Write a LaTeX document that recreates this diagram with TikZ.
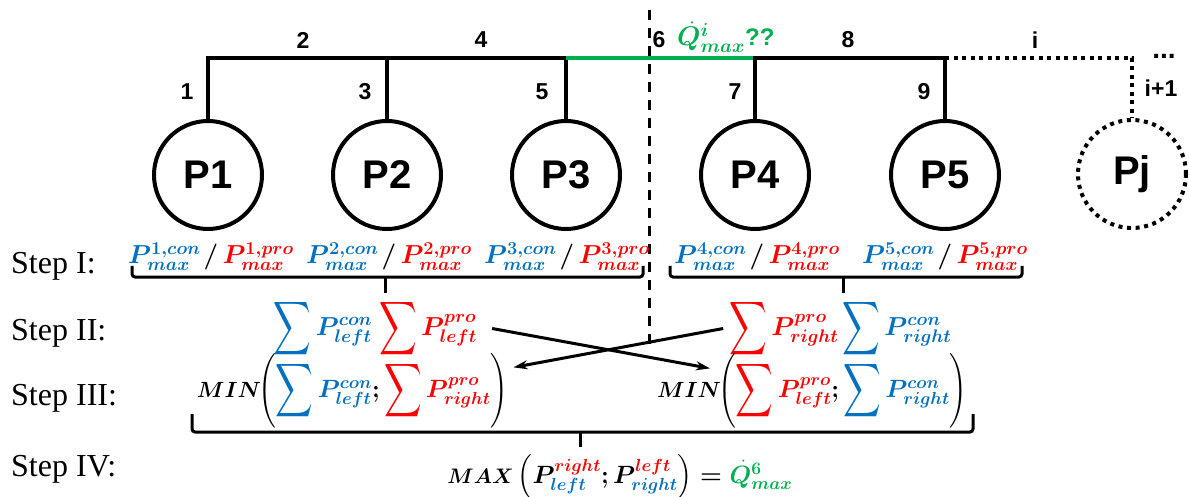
\RequirePackage{fix-cm}
\documentclass[tikz,border=0pt]{standalone}
\usepackage{amsmath}
\usepackage{bm}
\usepackage{graphicx}
\usepackage{fontspec}
\newfontfamily\labelfont{Liberation Sans}
\newfontfamily\stepfont{Liberation Serif}
\usetikzlibrary{arrows.meta,calc}
\definecolor{conblue}{HTML}{0070C0}
\definecolor{prored}{HTML}{FF0000}
\definecolor{flowgreen}{HTML}{00B050}

% tall, narrow summation sign centred on the math axis
\newcommand{\tallsum}{\mathop{\vcenter{\hbox{\scalebox{1.05}[1.5]{$\displaystyle\sum$}}}}}
% parentheses for the MIN terms
\newcommand{\tallparen}[1]{\mathopen{\vcenter{\hbox{\scalebox{0.9}[1.0]{$\Biggl#1$}}}}}
\newcommand{\tallcparen}[1]{\mathclose{\vcenter{\hbox{\scalebox{0.9}[1.0]{$\Biggr#1$}}}}}
% bold P with indices
\newcommand{\bP}[2]{\bm{P}^{\bm{#1}}_{\bm{#2}}}
% bold P with coloured indices
\newcommand{\cP}[2]{\bm{P}^{{\color{prored}\bm{#1}}}_{{\color{conblue}\bm{#2}}}}
% bold Q with a centred dot (flow rate); scripts attach to the Q
\newcommand{\Qdot}{\rlap{$\mkern3mu\dot{\phantom{Q}}$}\bm{Q}}
% summed term in a colour
\newcommand{\csum}[3]{{\color{#1}\tallsum\bP{#2}{#3}}}
% pump limits of step I
\newcommand{\plim}[1]{\textcolor{conblue}{$\bP{#1,con}{max}$}$\mkern2mu\bm{/}\mkern3mu$\textcolor{prored}{$\bP{#1,pro}{max}$}}

\tikzset{
  tree/.style={line width=4pt},
  dots/.style={line width=4pt,dash pattern=on 4pt off 4.5pt},
  pump/.style={circle,draw,line width=4pt,minimum size=108pt,inner sep=0pt,
    font={\labelfont\bfseries\fontsize{40}{40}\selectfont}},
  seg/.style={inner sep=0pt,font={\labelfont\bfseries\fontsize{23}{23}\selectfont}},
  steplabel/.style={anchor=base west,inner sep=0pt,font={\stepfont\fontsize{32}{36}\selectfont}},
  mathlbl/.style={anchor=base,inner sep=0pt,font={\fontsize{26}{32}\selectfont}},
  minlbl/.style={inner sep=0pt,font={\fontsize{22}{26}\selectfont}},
  parlbl/.style={anchor=west,inner sep=0pt,font={\fontsize{25}{30}\selectfont}},
  brace/.style={line width=3pt,rounded corners=3pt},
  flow/.style={line width=3pt,-{Stealth[length=14pt,width=9pt]}},
}

\begin{document}
\begin{tikzpicture}[x=1pt,y=-1pt]
\useasboundingbox (0,0) rectangle (1189,497);

% pumps
\node[pump] (P1) at (208,175) {P1};
\node[pump] (P2) at (387,175) {P2};
\node[pump] (P3) at (566,175) {P3};
\node[pump] (P4) at (755,175) {P4};
\node[pump] (P5) at (945,175) {P5};
\node[pump,dash pattern=on 4pt off 4.6pt] (Pj) at (1132,174) {Pj};

% junctions of the main line
\coordinate (j1) at (208,58);
\coordinate (j2) at (387,58);
\coordinate (j3) at (566,58);
\coordinate (j4) at (755,58);
\coordinate (j5) at (945,58);
\coordinate (jj) at (1132,58);

% pipe network
\draw[tree] (P1) -- (j1) -- (j3);
\draw[tree] (P2) -- (j2);
\draw[tree] (P3) -- (j3);
\draw[tree,flowgreen] (j3) -- (j4);
\draw[tree] (P4) -- (j4) -- (j5) -- (P5);
\draw[dots] (j5) -- (jj) -- (Pj);

% section cut
\coordinate (cutT) at (649,10);
\coordinate (cutB) at (649,350);
\draw[line width=3pt,dash pattern=on 10pt off 8pt] (cutT) -- (cutB);

% segment numbers
\node[seg] (s1) at (187,92) {1};
\node[seg] (s2) at (303,40) {2};
\node[seg] (s3) at (365,92) {3};
\node[seg] (s4) at (481,40) {4};
\node[seg] (s5) at (542,92) {5};
\node[seg] (s6) at (659,40) {6};
\node[seg] (s7) at (735,92) {7};
\node[seg] (s8) at (848,40) {8};
\node[seg] (s9) at (924,92) {9};
\node[seg] (si) at (1035,40) {i};
\node[seg,font={\labelfont\bfseries\fontsize{28}{28}\selectfont}] (sdots) at (1164,56) {...};
\node[seg] (si1) at (1161,88) {i+1};
\node[anchor=base west,inner sep=0pt,text=flowgreen,font={\fontsize{27}{30}\selectfont}] (qi)
  at (677,46) {$\Qdot^{\bm{i}}_{\bm{max}}${\labelfont\bfseries\fontsize{24}{26}\selectfont ??}};

% step captions
\node[steplabel] (st1) at (11,273) {Step I:};
\node[steplabel] (st2) at (11,340) {Step II:};
\node[steplabel] (st3) at (11,405) {Step III:};
\node[steplabel] (st4) at (11,476) {Step IV:};

% step I: limits of each pump
\node[mathlbl] (L1) at (211,264) {\plim{1}};
\node[mathlbl] (L2) at (389,264) {\plim{2}};
\node[mathlbl] (L3) at (567,264) {\plim{3}};
\node[mathlbl] (L4) at (757,264) {\plim{4}};
\node[mathlbl] (L5) at (945,264) {\plim{5}};

\draw[brace] (132,266) |- (643,277) -- (643,266);
\draw[line width=3pt] (385,277) -- (385,293);
\draw[brace] (670,266) |- (1022,277) -- (1022,266);
\draw[line width=3pt] (843,277) -- (843,293);

% step II: sums on each side
\node[mathlbl] (IIlc) at (323,335) {$\csum{conblue}{con}{left}$};
\node[mathlbl] (IIlp) at (428,335) {$\csum{prored}{pro}{left}$};
\node[mathlbl] (IIrp) at (784,335) {$\csum{prored}{pro}{right}$};
\node[mathlbl] (IIrc) at (897,335) {$\csum{conblue}{con}{right}$};

% step III: minima
\node[minlbl] (IIIlmin) at (229,390) {$\bm{MIN}$};
\node[parlbl] (IIIlpar) at (258,391)
  {$\tallparen(\csum{conblue}{con}{left}\bm{;}\csum{prored}{pro}{right}\tallcparen)$};
\node[minlbl] (IIIrmin) at (689,390) {$\bm{MIN}$};
\node[parlbl] (IIIrpar) at (718,391)
  {$\tallparen(\csum{prored}{pro}{left}\bm{;}\csum{conblue}{con}{right}\tallcparen)$};

% crossing arrows
\draw[flow] ([xshift=15pt]IIlp.east) -- ([xshift=-8pt,yshift=-15pt]IIIrpar.north west);
\draw[flow] ([xshift=-6pt]IIrp.west) -- ([xshift=5pt,yshift=-14pt]IIIlpar.north east);

% step IV
\draw[brace] (192,414) |- (973,432) -- (973,414);
\draw[line width=3pt] (580,432) -- (580,447);
\node[inner sep=0pt,font={\fontsize{25}{30}\selectfont}] (IV) at (620,477)
  {{\fontsize{21}{26}\selectfont$\bm{MAX}$}\,$\left(\cP{right}{left}\bm{;}\cP{left}{right}\right)$
   $\bm{=}$ {\color{flowgreen}$\Qdot^{\bm{6}}_{\bm{max}}$}};
\end{tikzpicture}
\end{document}
